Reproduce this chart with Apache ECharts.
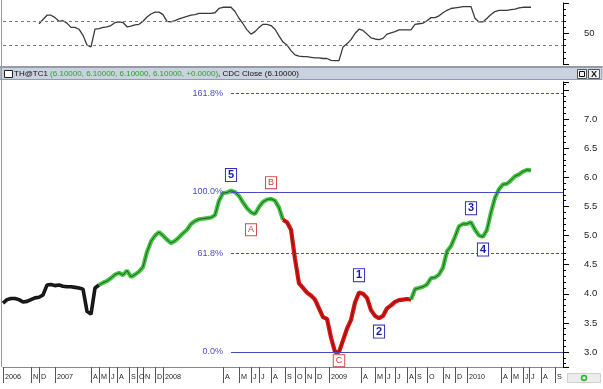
<!DOCTYPE html>
<html><head><meta charset="utf-8">
<script src="https://cdn.jsdelivr.net/npm/echarts@6/dist/echarts.min.js"></script>
<style>html,body{margin:0;padding:0;background:#fff}#c{width:603px;height:389px}</style>
</head><body><div id="c"></div>
<script>
// ---------------- DATA ----------------
// one slot per bar position on the time axis (category axis)
const barCount = 141;
// the date scale is drawn at half-bar resolution
const halfBarCount = 281;
// month / year tick labels and the half-bar slot where each one starts
const monthTickSlot = [0,14,18,26,44,48,53,57,63,67,70,76,
  80,110,118,124,128,134,141,146,151,156,
  163,179,186,191,196,202,206,212,220,226,
  232,249,254,260,263,269,276];
const monthTickLabel = ['2006','N','D','2007','A','M','J','A','S','O','N','D',
  '2008','A','M','J','J','A','S','O','N','D',
  '2009','A','M','J','J','A','S','O','N','D',
  '2010','A','M','J','J','A','S'];

// TH@TC1 close prices per bar slot
const prices = [
  3.84,3.90,3.92,3.92,3.90,3.86,3.87,3.90,3.93,3.94,
  3.98,4.15,4.16,4.14,4.15,4.13,4.12,4.12,4.11,4.10,
  4.08,3.70,3.65,4.10,4.15,4.19,4.22,4.27,4.33,4.36,
  4.32,4.40,4.29,4.33,4.38,4.46,4.72,4.90,5.00,5.06,
  5.00,4.93,4.87,4.91,4.97,5.04,5.10,5.20,5.25,5.28,
  5.29,5.30,5.31,5.35,5.60,5.73,5.74,5.77,5.75,5.68,
  5.57,5.47,5.40,5.37,5.49,5.58,5.62,5.63,5.60,5.48,
  5.27,5.23,5.10,4.60,4.18,4.10,4.02,3.97,3.90,3.75,
  3.60,3.57,3.25,3.00,3.00,3.20,3.40,3.55,3.85,4.02,
  4.00,3.93,3.72,3.62,3.58,3.62,3.75,3.80,3.86,3.89,
  3.90,3.91,3.90,4.08,4.10,4.12,4.16,4.27,4.28,4.33,
  4.45,4.73,4.82,4.98,5.16,5.20,5.20,5.23,5.10,5.00,
  4.98,5.10,5.40,5.65,5.80,5.88,5.89,5.95,6.02,6.05,
  6.10,6.13,6.12
];

// CDC Close indicator (0-100) per bar slot
const cdcClose = [
  null,null,null,null,null,null,null,null,null,66,
  73,80,80,76,70,71,67,60,60,57,
  47,31,28,57,58,60,61,63,68,69,
  68,61,62,64,65,70,77,82,85,85,
  81,70,69,71,74,76,78,80,81,83,
  83,83,83,84,91,93,93,93,86,75,
  66,56,49,53,60,65,65,63,57,46,
  36,31,22,15,13,12,12,11,10,10,
  9,9,6,5.5,5.5,28,33,40,50,57,
  55,49,43,41,40,42,49,51,53,56,
  56,56,56,65,66,67,71,76,76,79,
  84,88,91,92,93,94,94,94,75,69,
  69,75,81,86,88,88,88,89,90,92,
  93,93,93
];
const cdcLevels = [30, 70];

// wave phases (bar slot ranges)
const phaseStart = [0, 24, 70, 102];
const phaseEnd   = [24, 70, 102, 132];
const phaseKind  = ['base', 'impulse', 'correction', 'impulse'];

// Fibonacci projection of the 5th wave top over the C low
const fibLow = 3.0, fibHigh = 5.75;
const fibRatios = [0, 0.618, 1.0, 1.618];
const fibAnchorIndex = 57;

// Elliott wave labels
const waveNames  = ['5','A','B','C','1','2','3','4'];
const waveIndex  = [57, 62, 67, 84, 89, 94, 117, 120];
const wavePrice  = [6.04, 5.10, 5.91, 2.85, 4.32, 3.35, 5.47, 4.76];
const waveDegree = ['impulse','correction','correction','correction','impulse','impulse','impulse','impulse'];

// ---------------- CHART ----------------
const FONT = '"Liberation Sans", Arial, sans-serif';
const categories = Array.from({length: barCount}, (_, i) => 'b' + i);
const halfCategories = Array.from({length: halfBarCount}, (_, i) => 'h' + i);
const tickMap = {};
monthTickSlot.forEach((b, k) => { tickMap[b] = monthTickLabel[k]; });
const isTick = (i) => Object.prototype.hasOwnProperty.call(tickMap, i);

const phaseColor = { base: '#111111', impulse: '#3ec43e', correction: '#e31010' };
const waveStyle = {
  impulse:    { color: '#1a1aa6', borderColor: '#3030b8', fontWeight: 'bold', fontSize: 11, lineHeight: 11, padding: [1,2,0,2] },
  correction: { color: '#c43838', borderColor: '#d44c4c', fontWeight: 'normal', fontSize: 9, lineHeight: 9, padding: [1,2,1,2] }
};
const fibColor = '#4a4ac4';

function segData(a, b) { return prices.map((v, i) => (i >= a && i <= b) ? v : null); }

const series = [];
series.push({
  type: 'line', xAxisIndex: 0, yAxisIndex: 0, data: cdcClose, symbol: 'none',
  lineStyle: { color: '#3a3a3a', width: 1.3 },
  markLine: {
    silent: true, symbol: 'none', label: { show: false },
    lineStyle: { type: [3, 3], color: '#7a7a7a', width: 1 },
    data: cdcLevels.map(v => ({ yAxis: v }))
  }
});
phaseKind.forEach((k, p) => {
  series.push({
    type: 'line', xAxisIndex: 1, yAxisIndex: 1, data: segData(phaseStart[p], phaseEnd[p]),
    symbol: 'none', lineStyle: { color: phaseColor[k], width: k === 'base' ? 3.6 : 4.2 }, z: 2
  });
});
const fibLevels = fibRatios.map(r => fibLow + r * (fibHigh - fibLow));
series.push({
  type: 'line', xAxisIndex: 1, yAxisIndex: 1, data: prices, symbol: 'none',
  lineStyle: { color: '#2a2a2a', width: 0.7 }, z: 3,
  markLine: {
    silent: true, symbol: 'none', animation: false,
    data: fibLevels.map((lv, k) => {
      const dotted = fibRatios[k] !== 0 && fibRatios[k] !== 1;
      const txt = (fibRatios[k] * 100).toFixed(1) + '%';
      return [
        { coord: [fibAnchorIndex, lv],
          lineStyle: { color: fibColor, width: 1, type: dotted ? [3, 2] : 'solid' },
          label: { show: true, position: 'start', formatter: txt, color: '#4a4ad2', fontSize: 9, fontFamily: FONT, distance: 8 } },
        { coord: [barCount - 1, lv] }
      ];
    })
  },
  markPoint: {
    silent: true, symbol: 'rect', symbolSize: 1, itemStyle: { color: 'rgba(0,0,0,0)' },
    data: waveNames.map((n, k) => {
      const s = waveStyle[waveDegree[k]];
      return {
        name: n, value: n, coord: [waveIndex[k], wavePrice[k]],
        label: {
          show: true, position: 'inside', formatter: n, color: s.color, fontWeight: s.fontWeight,
          fontSize: s.fontSize, lineHeight: s.lineHeight, fontFamily: FONT,
          backgroundColor: '#ffffff', borderColor: s.borderColor, borderWidth: 1, padding: s.padding
        }
      };
    })
  }
});

const option = {
  animation: false,
  backgroundColor: '#ffffff',
  grid: [
    { left: 3, right: 40, top: 3, height: 61 },
    { left: 3, right: 40, top: 82, bottom: 22 }
  ],
  xAxis: [
    { gridIndex: 0, type: 'category', data: categories, boundaryGap: false, show: false },
    { gridIndex: 1, type: 'category', data: categories, boundaryGap: false, show: false, position: 'bottom' },
    { gridIndex: 1, type: 'category', data: halfCategories, boundaryGap: false, position: 'bottom',
      axisLine: { show: true, onZero: false, lineStyle: { color: '#8a8a8a' } },
      axisTick: { show: true, interval: (i) => isTick(i), length: 16, lineStyle: { color: '#555' } },
      axisLabel: { interval: (i) => isTick(i), formatter: (v, i) => tickMap[i] || '', align: 'left',
        padding: [0, 0, 0, 2], margin: 7, fontSize: 7.2, color: '#222', fontFamily: FONT },
      splitLine: { show: false } }
  ],
  yAxis: [
    { gridIndex: 0, type: 'value', position: 'right', min: 0, max: 100, interval: 50,
      axisLine: { show: true, lineStyle: { color: '#000' } },
      axisTick: { show: true, length: 6, lineStyle: { color: '#000' } },
      minorTick: { show: true, splitNumber: 5, length: 3, lineStyle: { color: '#000' } },
      splitLine: { show: false },
      axisLabel: { formatter: v => (v === 50 ? '50' : ''), margin: 21, fontSize: 9.5, color: '#222', fontFamily: FONT } },
    { gridIndex: 1, type: 'value', position: 'right', min: 2.742, max: 7.639, splitNumber: 10,
      axisLine: { show: true, lineStyle: { color: '#000' } },
      axisTick: { show: true, length: 6, lineStyle: { color: '#000' } },
      minorTick: { show: true, splitNumber: 5, length: 3, lineStyle: { color: '#000' } },
      splitLine: { show: false },
      axisLabel: { showMinLabel: false, showMaxLabel: false,
        formatter: v => (v <= 7.0 && Math.abs(v * 2 - Math.round(v * 2)) < 1e-6 ? v.toFixed(1) : ''),
        margin: 21, fontSize: 9.5, color: '#222', fontFamily: FONT } }
  ],
  series: series,
  graphic: [
    { type: 'line', silent: true, shape: { x1: 0, y1: 66.5, x2: 603, y2: 66.5 }, style: { stroke: '#9a9a9a', lineWidth: 1 } },
    { type: 'rect', silent: true, shape: { x: 0, y: 67.5, width: 602, height: 12 }, style: { fill: '#c9d2de', stroke: '#8f9bb0', lineWidth: 1 } },
    { type: 'rect', silent: true, shape: { x: 4.5, y: 70.5, width: 8, height: 7 }, style: { fill: '#ffffff', stroke: '#222', lineWidth: 1 } },
    { type: 'text', silent: true, x: 14, y: 74, style: {
        text: '{k|TH@TC1 }{g|(6.10000, 6.10000, 6.10000, 6.10000, +0.0000)}{k|, CDC Close (6.10000)}',
        rich: { k: { fill: '#111', font: '8px ' + FONT }, g: { fill: '#2f9e2f', font: '8px ' + FONT } },
        font: '8px ' + FONT, verticalAlign: 'middle', fill: '#111' } },
    { type: 'rect', silent: true, shape: { x: 577.5, y: 69.5, width: 9, height: 9 }, style: { fill: '#f0f0f0', stroke: '#555', lineWidth: 1 } },
    { type: 'rect', silent: true, shape: { x: 579.5, y: 71.5, width: 5, height: 5 }, style: { fill: 'none', stroke: '#111', lineWidth: 1 } },
    { type: 'rect', silent: true, shape: { x: 588.5, y: 69.5, width: 11, height: 9 }, style: { fill: '#f0f0f0', stroke: '#555', lineWidth: 1 } },
    { type: 'text', silent: true, x: 594, y: 74.5, style: { text: 'X', font: 'bold 9px ' + FONT, fill: '#111', align: 'center', verticalAlign: 'middle' } },
    { type: 'line', silent: true, shape: { x1: 1.5, y1: 0, x2: 1.5, y2: 367 }, style: { stroke: '#9a9a9a', lineWidth: 1 } },
    { type: 'rect', silent: true, shape: { x: 567.5, y: 373.5, width: 33, height: 9 }, style: { fill: '#ececec', stroke: '#d0d0d0', lineWidth: 1 } },
    { type: 'circle', silent: true, shape: { cx: 584, cy: 378, r: 2.5 }, style: { fill: 'none', stroke: '#22bb22', lineWidth: 1.5 } }
  ]
};
const chart = echarts.init(document.getElementById('c'));
chart.setOption(option);
</script>
</body></html>
